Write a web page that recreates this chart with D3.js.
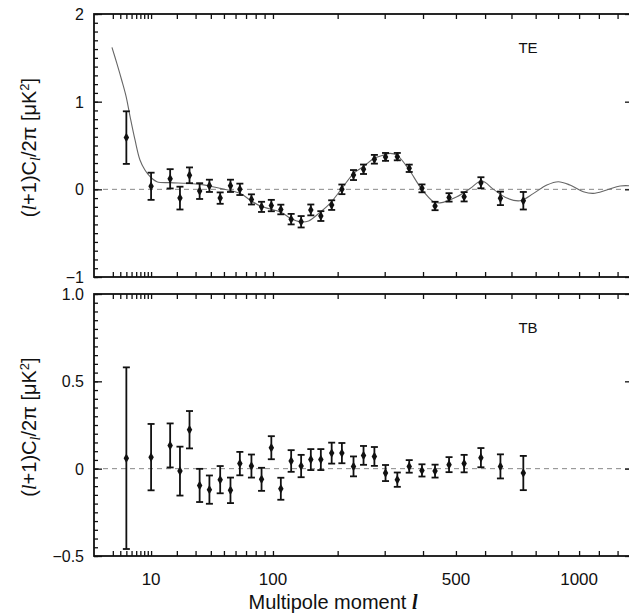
<!DOCTYPE html>
<html>
<head>
<meta charset="utf-8">
<script src="https://cdn.jsdelivr.net/npm/d3@7"></script>
<style>
  body { margin: 0; background: #fff; }
  text { font-family: "Liberation Sans", Arial, Helvetica, sans-serif; fill: #111; }
</style>
</head>
<body>
<div id="chart-area"></div>
<script>
// multipole bin centres (shared by both panels)
var ell = [4, 10, 17, 21.5, 26.5, 32.5, 39, 47, 55.5, 64, 75.5, 86.5, 98, 110, 124, 138.5,
           153.5, 170, 189, 208, 231, 252, 276, 302, 331, 362, 397, 435, 478, 527, 585, 657, 748];

// TE cross power
var teVal = [0.59, 0.035, 0.12, -0.10, 0.16, -0.02, 0.04, -0.10, 0.04, 0.0, -0.115, -0.20, -0.185,
             -0.23, -0.34, -0.37, -0.235, -0.305, -0.18, 0.0, 0.163, 0.229, 0.343, 0.37, 0.373,
             0.24, 0.011, -0.19, -0.092, -0.085, 0.075, -0.103, -0.13];
var teErr = [0.30, 0.155, 0.11, 0.13, 0.09, 0.09, 0.07, 0.065, 0.07, 0.065, 0.058, 0.058, 0.065,
             0.055, 0.06, 0.065, 0.062, 0.056, 0.055, 0.055, 0.057, 0.054, 0.05, 0.045, 0.042,
             0.042, 0.045, 0.048, 0.048, 0.053, 0.063, 0.077, 0.10];

// TB cross power
var tbVal = [0.06, 0.066, 0.133, -0.014, 0.223, -0.096, -0.12, -0.063, -0.124, 0.029, 0.015, -0.061,
             0.12, -0.115, 0.044, 0.015, 0.052, 0.052, 0.089, 0.089, 0.013, 0.076, 0.07, -0.025,
             -0.063, 0.013, -0.01, -0.014, 0.023, 0.029, 0.063, 0.013, -0.025];
var tbErr = [0.52, 0.19, 0.126, 0.14, 0.107, 0.095, 0.081, 0.078, 0.073, 0.067, 0.066, 0.066,
             0.066, 0.063, 0.062, 0.064, 0.06, 0.06, 0.06, 0.058, 0.057, 0.054, 0.054, 0.046,
             0.041, 0.036, 0.035, 0.037, 0.043, 0.05, 0.055, 0.069, 0.098];

// model TE curve
var theoryEll = [1.9, 2.5, 3.2, 3.95, 4.7, 5.75, 6.9, 8.2, 9.7, 11.9, 17, 25, 33, 47, 64, 74, 85,
                 110, 123, 137, 150, 169, 186, 208, 231, 252, 274, 297, 313, 330, 359, 395, 430,
                 450, 503, 547, 588, 631, 682, 735, 791, 849, 901, 956, 1021, 1071, 1141, 1214, 1275];
var theoryTE = [1.62, 1.44, 1.25, 1.06, 0.83, 0.56, 0.335, 0.22, 0.144, 0.087, 0.076, 0.069, 0.057,
                0.011, -0.046, -0.12, -0.19, -0.26, -0.33, -0.37, -0.36, -0.26, -0.16, 0.01, 0.18,
                0.26, 0.35, 0.39, 0.41, 0.39, 0.24, 0.01, -0.14, -0.155, -0.085, 0.01, 0.095, 0.0,
                -0.10, -0.13, -0.046, 0.049, 0.087, 0.049, -0.027, -0.046, -0.008, 0.038, 0.04];

// axis ticks
var xTicks = [2, 3, 4, 5, 6, 7, 8, 9, 10, 20, 30, 40, 50, 60, 70, 80, 90, 100,
              200, 300, 400, 500, 600, 700, 800, 900, 1000, 1100, 1200];
var xTickLabels = [10, 100, 500, 1000];
var teYLabels = [-1, 0, 1, 2];
var tbYLabels = [-0.5, 0, 0.5, 1.0];

var svgWidth = 629, svgHeight = 613;
var left = 94, right = 631;

var svg = d3.select("#chart-area").append("svg")
    .attr("width", svgWidth)
    .attr("height", svgHeight);

// x axis is linear in l^0.4 (frame runs just past the picture edge)
var xScale = d3.scalePow().exponent(0.4)
    .domain([0.46, 1258])
    .range([left, 628]);

function drawPanel(opts) {
    var y = d3.scaleLinear().domain(opts.domain).range([opts.bottom, opts.top]);
    var g = svg.append("g").attr("class", opts.name);

    g.append("clipPath").attr("id", "clip-" + opts.name)
      .append("rect")
      .attr("x", left).attr("y", opts.top)
      .attr("width", right - left).attr("height", opts.bottom - opts.top);

    // zero line
    g.append("line")
      .attr("x1", left).attr("x2", right)
      .attr("y1", y(0)).attr("y2", y(0))
      .attr("stroke", "#888").attr("stroke-width", 1)
      .attr("stroke-dasharray", "5,4");

    // model curve
    if (opts.curve) {
        var line = d3.line()
            .x(d => xScale(d[0]))
            .y(d => y(d[1]))
            .curve(d3.curveCatmullRom);
        g.append("path")
          .datum(d3.zip(opts.curve[0], opts.curve[1]))
          .attr("clip-path", "url(#clip-" + opts.name + ")")
          .attr("d", line)
          .attr("fill", "none")
          .attr("stroke", "#666")
          .attr("stroke-width", 1.1);
    }

    // error bars
    var pts = ell.map((l, i) => ({ l: l, v: opts.values[i], e: opts.errors[i] }));
    var bars = g.append("g").selectAll("g").data(pts).enter().append("g")
        .attr("transform", d => "translate(" + xScale(d.l) + ",0)");
    bars.append("line")
        .attr("y1", d => y(d.v + d.e)).attr("y2", d => y(d.v - d.e))
        .attr("stroke", "#111").attr("stroke-width", 1.8);
    bars.append("line")
        .attr("x1", -3.5).attr("x2", 3.5)
        .attr("y1", d => y(d.v + d.e)).attr("y2", d => y(d.v + d.e))
        .attr("stroke", "#111").attr("stroke-width", 1.8);
    bars.append("line")
        .attr("x1", -3.5).attr("x2", 3.5)
        .attr("y1", d => y(d.v - d.e)).attr("y2", d => y(d.v - d.e))
        .attr("stroke", "#111").attr("stroke-width", 1.8);
    bars.append("path")
        .attr("transform", d => "translate(0," + y(d.v) + ")")
        .attr("d", d3.symbol(d3.symbolDiamond).size(26))
        .attr("fill", "#111");

    // axes: ticks pointing inward
    var minorY = d3.range(opts.domain[0], opts.domain[1] + 1e-9, opts.minorStep);
    g.append("g").call(d3.axisRight(y).tickValues(minorY).tickSize(4).tickFormat(""))
      .attr("transform", "translate(" + left + ",0)");
    g.append("g").call(d3.axisRight(y).tickValues(opts.labels).tickSize(8).tickFormat(""))
      .attr("transform", "translate(" + left + ",0)");
    g.append("g").call(d3.axisLeft(y).tickValues(opts.labels).tickSize(6).tickFormat(""))
      .attr("transform", "translate(" + right + ",0)");
    g.append("g").call(d3.axisTop(xScale).tickValues(xTicks).tickSize(5).tickFormat(""))
      .attr("transform", "translate(0," + opts.bottom + ")");
    g.append("g").call(d3.axisBottom(xScale).tickValues(xTicks).tickSize(5).tickFormat(""))
      .attr("transform", "translate(0," + opts.top + ")");
    g.selectAll(".domain").remove();
    g.selectAll(".tick line").attr("stroke", "#111").attr("stroke-width", 1.3);

    // frame
    g.append("rect")
      .attr("x", left).attr("y", opts.top)
      .attr("width", right - left).attr("height", opts.bottom - opts.top)
      .attr("fill", "none").attr("stroke", "#111").attr("stroke-width", 1.8);

    // y tick labels
    g.selectAll(".ylab").data(opts.labels).enter().append("text")
      .attr("x", 84).attr("y", d => y(d) + 6)
      .attr("text-anchor", "end")
      .attr("font-size", "16px")
      .text(d => d < 0 ? "\u2212" + opts.fmt(-d) : opts.fmt(d));

    // panel label
    g.append("text")
      .attr("x", 528).attr("y", opts.top + 39)
      .attr("text-anchor", "middle")
      .attr("font-size", "15px")
      .text(opts.name);

    // y axis title
    var t = g.append("text")
      .attr("transform", "translate(36," + ((opts.top + opts.bottom) / 2 + 2) + ") rotate(-90)")
      .attr("text-anchor", "middle")
      .attr("font-size", "20px");
    t.append("tspan").text("(");
    t.append("tspan").attr("font-style", "italic").attr("font-family", "Liberation Serif").text("l");
    t.append("tspan").text("+1)C");
    t.append("tspan").attr("font-style", "italic").attr("font-family", "Liberation Serif")
      .attr("font-size", "14px").attr("dy", 4).text("l");
    t.append("tspan").attr("dy", -4).text("/2\u03c0 [\u03bcK");
    t.append("tspan").attr("font-size", "13px").attr("dy", -7).text("2");
    t.append("tspan").attr("dy", 7).text("]");
}

drawPanel({ name: "TE", top: 14, bottom: 277, domain: [-1, 2], minorStep: 0.1,
            labels: teYLabels, fmt: d3.format("d"),
            values: teVal, errors: teErr, curve: [theoryEll, theoryTE] });

drawPanel({ name: "TB", top: 294, bottom: 556, domain: [-0.5, 1.0], minorStep: 0.05,
            labels: tbYLabels, fmt: d => d === 0 ? "0" : d3.format(".1f")(d),
            values: tbVal, errors: tbErr });

// x tick labels
svg.selectAll(".xlab").data(xTickLabels).enter().append("text")
   .attr("x", d => xScale(d)).attr("y", 585)
   .attr("text-anchor", "middle")
   .attr("font-size", "17px")
   .text(d => d);

// x axis title
var xt = svg.append("text")
   .attr("x", 333).attr("y", 609)
   .attr("text-anchor", "middle")
   .attr("font-size", "20px");
xt.append("tspan").text("Multipole moment  ");
xt.append("tspan").attr("font-style", "italic").attr("font-weight", "bold")
  .attr("font-family", "Liberation Serif").text("l");
</script>
</body>
</html>
